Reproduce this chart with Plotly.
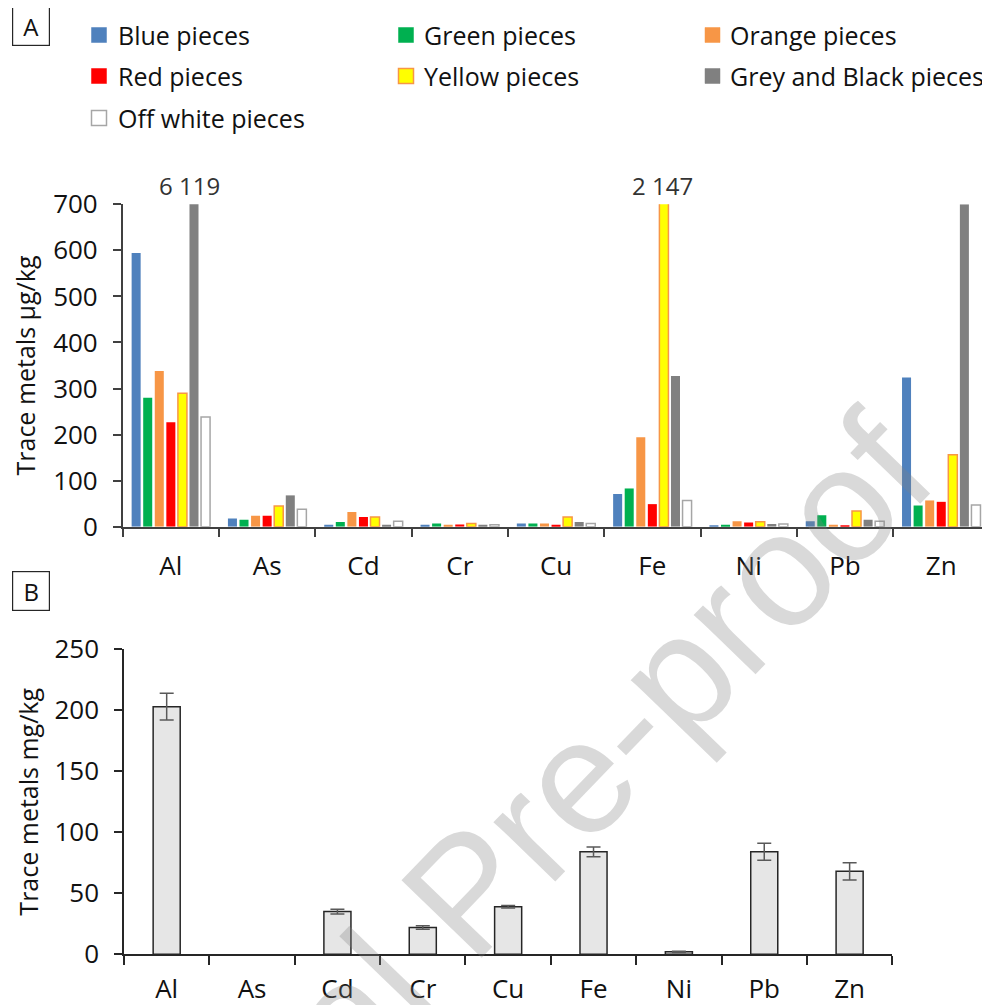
import plotly.graph_objects as go

# ---------------- data ----------------
metals = ["Al", "As", "Cd", "Cr", "Cu", "Fe", "Ni", "Pb", "Zn"]

series_names = ["Blue pieces", "Green pieces", "Orange pieces", "Red pieces",
                "Yellow pieces", "Grey and Black pieces", "Off white pieces"]

blue_pieces = [594, 18, 4, 4, 7, 71, 3, 12, 324]
green_pieces = [280, 15, 10, 7, 7, 83, 4, 25, 46]
orange_pieces = [338, 24, 32, 4, 7, 194, 12, 4, 57]
red_pieces = [227, 24, 21, 5, 4, 49, 9, 3, 54]
yellow_pieces = [290, 45, 21, 7, 21, 2147, 11, 34, 156]
grey_black_pieces = [6119, 68, 4, 4, 10, 327, 6, 15, 700]
off_white_pieces = [238, 38, 12, 4, 7, 57, 6, 12, 47]

panel_b_mean = [203, None, 35, 22, 39, 84, 2, 84, 68]
panel_b_err = [11, 0, 2, 1.5, 1, 4, 0.5, 7, 7]

over_labels = [("Al", "6 119"), ("Fe", "2 147")]

# ---------------- styles ----------------
W, H = 990, 1005
OFF = 8  # page body margin offset
FONT = "Open Sans"
TXT = "#111111"

fills = ["#4F81BD", "#00B050", "#F79646", "#FF0000", "#FFFF00", "#808080", "#FFFFFF"]
edges = ["#4F81BD", "#00B050", "#F79646", "#FF0000", "#F79646", "#808080", "#A6A6A6"]
edge_w = [0, 0, 0, 0, 1.5, 0, 1.5]


def fx(p):
    return (p - OFF) / W


def fy(p):
    return 1 - (p - OFF) / H


all_series = [blue_pieces, green_pieces, orange_pieces, red_pieces,
              yellow_pieces, grey_black_pieces, off_white_pieces]

fig = go.Figure()

for name, vals, fc, ec, ew in zip(series_names, all_series, fills, edges, edge_w):
    fig.add_trace(go.Bar(
        x=metals, y=vals, name=name, xaxis="x", yaxis="y",
        marker=dict(color=fc, line=dict(color=ec, width=ew)),
        showlegend=False, cliponaxis=True,
    ))

fig.add_trace(go.Bar(
    x=metals, y=panel_b_mean, xaxis="x2", yaxis="y2", width=0.317,
    marker=dict(color="#E6E6E6", line=dict(color="#262626", width=1.5)),
    error_y=dict(type="data", array=panel_b_err, color="#595959", thickness=1.5, width=7),
    showlegend=False,
))

axis_common = dict(
    showline=True, linewidth=1.5, showgrid=False, zeroline=False, automargin=False,
    ticks="outside", tickwidth=1.5,
    tickfont=dict(family=FONT, size=26, color=TXT),
)

fig.update_layout(
    width=W, height=H,
    margin=dict(l=0, r=0, t=0, b=0, pad=0, autoexpand=False),
    paper_bgcolor="white", plot_bgcolor="white",
    barmode="group", bargap=0.159, bargroupgap=0.22,
    font=dict(family=FONT, color=TXT),
    xaxis=dict(domain=[fx(122.7), fx(989.4)], anchor="y", type="category",
               tickson="boundaries", ticklen=9, ticklabelstandoff=15,
               linecolor="#404040", tickcolor="#404040", **axis_common),
    yaxis=dict(domain=[fy(526.7), fy(204.3)], anchor="x", range=[0, 700], dtick=100,
               ticklen=8, ticklabelstandoff=10, linecolor="#404040", tickcolor="#404040",
               title=dict(text="Trace metals µg/kg", font=dict(family=FONT, size=25, color=TXT),
                          standoff=16),
               **axis_common),
    xaxis2=dict(domain=[fx(124), fx(892.3)], anchor="y2", type="category",
                tickson="boundaries", ticklen=9, ticklabelstandoff=11,
                linecolor="#262626", tickcolor="#262626", **axis_common),
    yaxis2=dict(domain=[fy(954.3), fy(649.3)], anchor="x2", range=[0, 250], dtick=50,
                ticklen=8, ticklabelstandoff=10, linecolor="#262626", tickcolor="#262626",
                title=dict(text="Trace metals mg/kg", font=dict(family=FONT, size=25, color=TXT),
                           standoff=9),
                **axis_common),
)

annotations = []
# labels for truncated bars
shifts = {"Al": 19, "Fe": 10}
for cat, lab in over_labels:
    annotations.append(dict(
        x=cat, y=700, xref="x", yref="y", text=lab, showarrow=False,
        yanchor="bottom", xanchor="center", xshift=shifts[cat], yshift=0,
        font=dict(family=FONT, size=24, color="#333333"),
    ))

# panel letters
for letter, cy in (("A", 26.5), ("B", 591)):
    annotations.append(dict(
        x=fx(31), y=fy(cy), xref="paper", yref="paper", text=letter, showarrow=False,
        xanchor="center", yanchor="middle", width=32, height=34, borderpad=2,
        bordercolor="#262626", borderwidth=1.2,
        font=dict(family=FONT, size=24, color=TXT),
    ))

# manual legend (3 columns)
col_sw = [99, 406, 712.5]
col_tx = [116, 421.7, 728.3]
row_y = [35, 76, 118]
shapes = []
for i, (name, fc, ec, ew) in enumerate(zip(series_names, fills, edges, edge_w)):
    r, c = divmod(i, 3)
    cx, cy = col_sw[c], row_y[r]
    shapes.append(dict(
        type="rect", xref="paper", yref="paper",
        x0=fx(cx - 7.5), x1=fx(cx + 7.5), y0=fy(cy + 7.5), y1=fy(cy - 7.5),
        fillcolor=fc, line=dict(color=ec if ew > 0 else fc, width=max(ew, 0.5)),
    ))
    annotations.append(dict(
        x=fx(col_tx[c]), y=fy(cy), xref="paper", yref="paper", text=name,
        showarrow=False, xanchor="left", yanchor="middle",
        font=dict(family=FONT, size=25, color=TXT),
    ))

# watermark
annotations.append(dict(
    x=fx(466), y=fy(892), xref="paper", yref="paper", text="Journal Pre-proof",
    showarrow=False, xanchor="center", yanchor="middle", textangle=-46,
    font=dict(family="Liberation Sans", size=162, color="rgba(128,128,128,0.3)"),
))

fig.update_layout(annotations=annotations, shapes=shapes)

fig.write_html("out.html")
